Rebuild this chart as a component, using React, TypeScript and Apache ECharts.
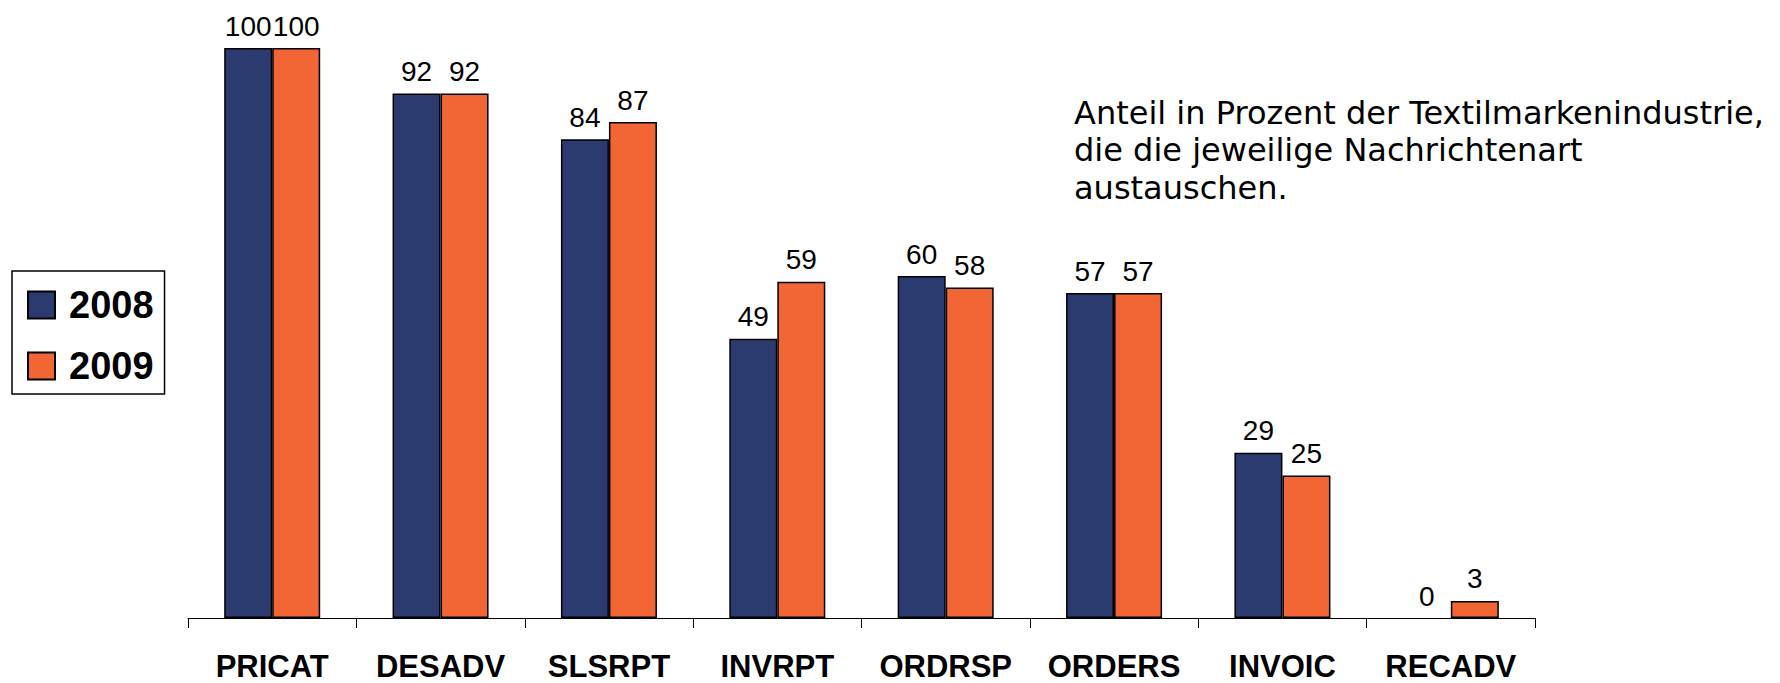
import React, { useEffect, useRef } from "react";
import * as echarts from "echarts";

const categories = ["PRICAT", "DESADV", "SLSRPT", "INVRPT", "ORDRSP", "ORDERS", "INVOIC", "RECADV"];
const values2008 = [100, 92, 84, 49, 60, 57, 29, 0];
const values2009 = [100, 92, 87, 59, 58, 57, 25, 3];
const seriesNames = ["2008", "2009"];
const annotation = [
  "Anteil in Prozent der Textilmarkenindustrie,",
  "die die jeweilige Nachrichtenart",
  "austauschen.",
];

const NAVY = "#2B3B6F";
const ORANGE = "#F26534";

export default function App() {
  const ref = useRef<HTMLDivElement>(null);
  useEffect(() => {
    if (!ref.current) return;
    const chart = echarts.init(ref.current, null, { renderer: "svg" });
    const label = {
      show: true,
      position: "top",
      distance: 8,
      color: "#000",
      fontFamily: "Liberation Sans, Arial, sans-serif",
      fontSize: 28,
    };
    const mk = (name: string, data: number[], color: string) => ({
      name,
      type: "bar",
      data: data.map((v) => (v === 0 ? { value: v, itemStyle: { borderWidth: 0 } } : v)),
      barWidth: 48,
      barGap: "0%",
      itemStyle: { color, borderColor: "#000", borderWidth: 1.5 },
      label,
    });
    chart.setOption({
      animation: false,
      backgroundColor: "#fff",
      grid: { left: 188, right: 245, top: 48, bottom: 65, containLabel: false },
      xAxis: {
        type: "category",
        data: categories,
        axisLine: { lineStyle: { color: "#000", width: 1 } },
        axisTick: { show: true, length: 10, alignWithLabel: false, lineStyle: { color: "#000" } },
        axisLabel: {
          interval: 0,
          margin: 33,
          color: "#000",
          fontFamily: "Liberation Sans, Arial, sans-serif",
          fontWeight: "bold",
          fontSize: 31,
          lineHeight: 31,
        },
      },
      yAxis: {
        type: "value",
        min: 0,
        max: 100,
        show: false,
        splitLine: { show: false },
      },
      legend: {
        orient: "vertical",
        left: 12,
        top: 271,
        data: seriesNames,
        itemWidth: 27,
        itemHeight: 27,
        itemGap: 23,
        icon: "rect",
        borderColor: "#000",
        borderWidth: 1.5,
        padding: [15, 11, 9, 15],
        textStyle: {
          color: "#000",
          fontFamily: "Liberation Sans, Arial, sans-serif",
          fontWeight: "bold",
          fontSize: 38,
          lineHeight: 38,
          padding: [0, 0, 0, 9],
        },
      },
      graphic: [
        {
          type: "text",
          left: 1074,
          top: 94,
          style: {
            text: annotation.join("\n"),
            font: "32px 'DejaVu Sans', Verdana, sans-serif",
            lineHeight: 37.5,
            fill: "#000",
          },
        },
      ],
      series: [mk(seriesNames[0], values2008, NAVY), mk(seriesNames[1], values2009, ORANGE)],
    });
    return () => chart.dispose();
  }, []);
  return <div ref={ref} style={{ width: 1780, height: 683, position: "absolute", left: 0, top: 0 }} />;
}
